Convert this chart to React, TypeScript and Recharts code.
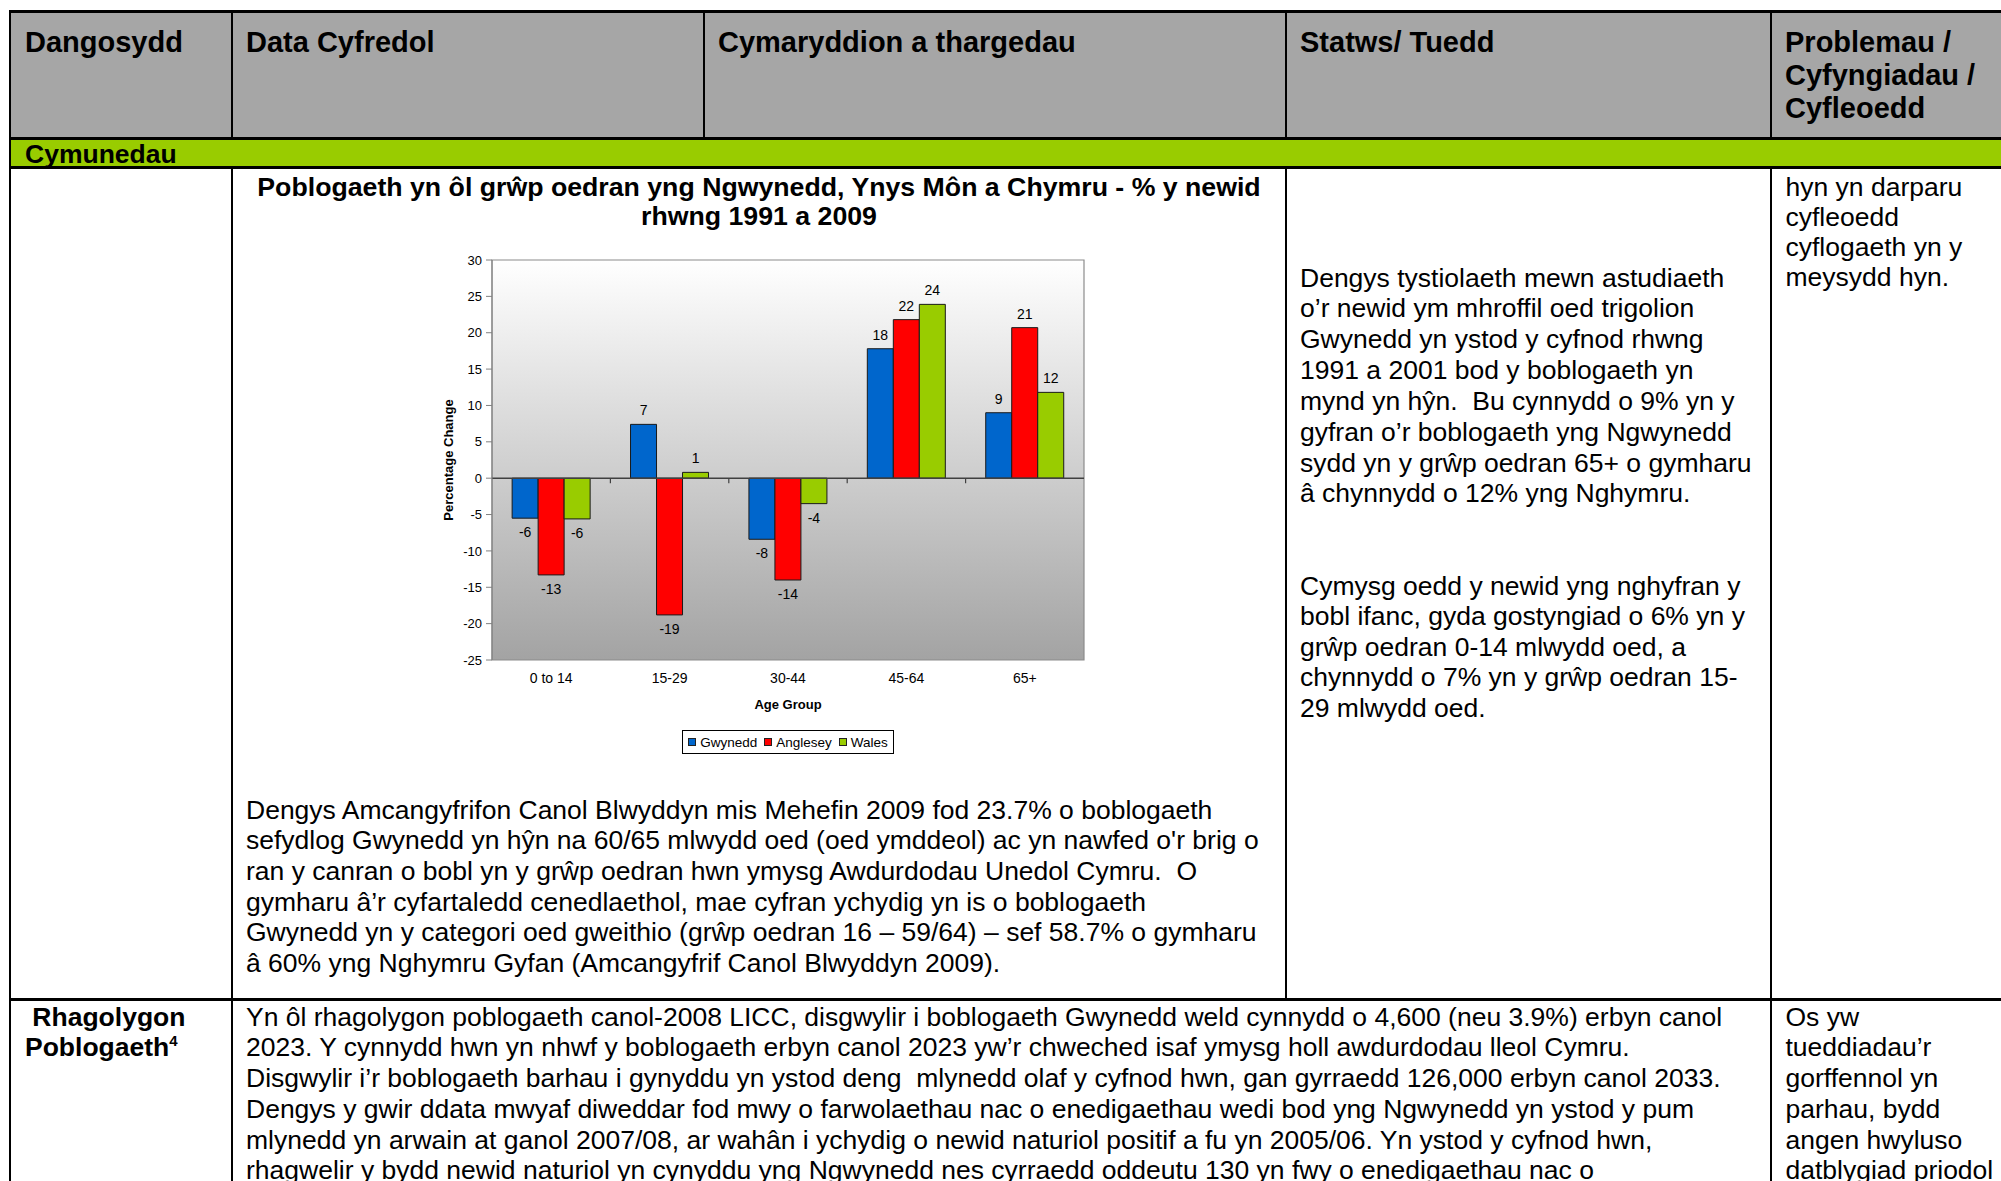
import React from 'react';
import {
  BarChart,
  Bar,
  XAxis,
  YAxis,
  CartesianGrid,
  ReferenceLine,
  ReferenceArea,
  LabelList,
  Legend,
  Label,
} from 'recharts';

// ---------- chart data ----------
const ageGroups = ['0 to 14', '15-29', '30-44', '45-64', '65+'];
const gwynedd = [-5.5, 7.4, -8.4, 17.8, 9.0];
const anglesey = [-13.3, -18.8, -14.0, 21.8, 20.7];
const wales = [-5.6, 0.8, -3.5, 23.9, 11.8];
const seriesNames = ['Gwynedd', 'Anglesey', 'Wales'];
const seriesKeys = ['gwynedd', 'anglesey', 'wales'];
const seriesColors = ['#0066cc', '#ff0000', '#99cc00'];
const yTicks = [-25, -20, -15, -10, -5, 0, 5, 10, 15, 20, 25, 30];

const chartData = ageGroups.map((g, i) => ({
  group: g,
  gwynedd: gwynedd[i],
  anglesey: anglesey[i],
  wales: wales[i],
}));

// ---------- document text ----------
const headers = ['Dangosydd', 'Data Cyfredol', 'Cymaryddion a thargedau', 'Statws/ Tuedd', 'Problemau /\nCyfyngiadau /\nCyfleoedd'];
const sectionTitle = 'Cymunedau';
const chartTitle = 'Poblogaeth yn ôl grŵp oedran yng Ngwynedd, Ynys Môn a Chymru - % y newid\nrhwng 1991 a 2009';
const chartPara = [
  'Dengys Amcangyfrifon Canol Blwyddyn mis Mehefin 2009 fod 23.7% o boblogaeth',
  "sefydlog Gwynedd yn hŷn na 60/65 mlwydd oed (oed ymddeol) ac yn nawfed o'r brig o",
  'ran y canran o bobl yn y grŵp oedran hwn ymysg Awdurdodau Unedol Cymru.  O',
  'gymharu â’r cyfartaledd cenedlaethol, mae cyfran ychydig yn is o boblogaeth',
  'Gwynedd yn y categori oed gweithio (grŵp oedran 16 – 59/64) – sef 58.7% o gymharu',
  'â 60% yng Nghymru Gyfan (Amcangyfrif Canol Blwyddyn 2009).',
];
const statusPara1 = [
  'Dengys tystiolaeth mewn astudiaeth',
  'o’r newid ym mhroffil oed trigolion',
  'Gwynedd yn ystod y cyfnod rhwng',
  '1991 a 2001 bod y boblogaeth yn',
  'mynd yn hŷn.  Bu cynnydd o 9% yn y',
  'gyfran o’r boblogaeth yng Ngwynedd',
  'sydd yn y grŵp oedran 65+ o gymharu',
  'â chynnydd o 12% yng Nghymru.',
];
const statusPara2 = [
  'Cymysg oedd y newid yng nghyfran y',
  'bobl ifanc, gyda gostyngiad o 6% yn y',
  'grŵp oedran 0-14 mlwydd oed, a',
  'chynnydd o 7% yn y grŵp oedran 15-',
  '29 mlwydd oed.',
];
const problemsRow1 = ['hyn yn darparu', 'cyfleoedd', 'cyflogaeth yn y', 'meysydd hyn.'];
const row2Para = [
  'Yn ôl rhagolygon poblogaeth canol-2008 LICC, disgwylir i boblogaeth Gwynedd weld cynnydd o 4,600 (neu 3.9%) erbyn canol',
  '2023. Y cynnydd hwn yn nhwf y boblogaeth erbyn canol 2023 yw’r chweched isaf ymysg holl awdurdodau lleol Cymru.',
  'Disgwylir i’r boblogaeth barhau i gynyddu yn ystod deng  mlynedd olaf y cyfnod hwn, gan gyrraedd 126,000 erbyn canol 2033.',
  'Dengys y gwir ddata mwyaf diweddar fod mwy o farwolaethau nac o enedigaethau wedi bod yng Ngwynedd yn ystod y pum',
  'mlynedd yn arwain at ganol 2007/08, ar wahân i ychydig o newid naturiol positif a fu yn 2005/06. Yn ystod y cyfnod hwn,',
  'rhagwelir y bydd newid naturiol yn cynyddu yng Ngwynedd nes cyrraedd oddeutu 130 yn fwy o enedigaethau nac o',
];
const problemsRow2 = ['Os yw', 'tueddiadau’r', 'gorffennol yn', 'parhau, bydd', 'angen hwyluso', 'datblygiad priodol'];

const FONT = '"Liberation Sans", Arial, sans-serif';

const roundLabel = (v: number) => Math.sign(v) * Math.round(Math.abs(v));

const BarValueLabel = (props: any) => {
  const { x, y, width, height, value } = props;
  const xs = Number(x);
  const ys = Number(y);
  const w = Number(width);
  const h = Number(height);
  const top = Math.min(ys, ys + h);
  const bottom = Math.max(ys, ys + h);
  const v = Number(value);
  const cy = v >= 0 ? top - 14 : bottom + 14;
  return (
    <text x={xs + w / 2} y={cy} textAnchor="middle" dominantBaseline="central" fontSize={14} fill="#000" fontFamily={FONT}>
      {roundLabel(v)}
    </text>
  );
};

const ZeroAxis = (props: any) => {
  const { x1, y1, x2, y2 } = props;
  const n = ageGroups.length;
  const step = (Number(x2) - Number(x1)) / n;
  return (
    <g>
      <line x1={x1} y1={y1} x2={x2} y2={y2} stroke="#404040" strokeWidth={1.5} />
      {ageGroups.slice(1).map((_, i) => (
        <line
          key={i}
          x1={Number(x1) + step * (i + 1)}
          x2={Number(x1) + step * (i + 1)}
          y1={Number(y1)}
          y2={Number(y1) + 5}
          stroke="#404040"
          strokeWidth={1.2}
        />
      ))}
    </g>
  );
};

const LegendBox = () => (
  <div style={{ display: 'flex', justifyContent: 'center' }}>
    <div
      style={{
        display: 'flex',
        alignItems: 'center',
        height: 24,
        boxSizing: 'border-box',
        border: '1px solid #000',
        padding: '0 5px',
        background: '#fff',
        fontFamily: FONT,
        fontSize: 13.5,
        color: '#000',
      }}
    >
      {seriesNames.map((n, i) => (
        <span key={n} style={{ display: 'flex', alignItems: 'center', marginLeft: i ? 7 : 0 }}>
          <span
            style={{
              width: 8,
              height: 8,
              background: seriesColors[i],
              border: '1px solid #222',
              marginRight: 4,
              boxSizing: 'border-box',
              display: 'inline-block',
            }}
          />
          <span>{n}</span>
        </span>
      ))}
    </div>
  </div>
);

const PopChart = () => (
  <BarChart
    width={720}
    height={540}
    data={chartData}
    margin={{ top: 20, right: 36, left: 32, bottom: 26 }}
    barCategoryGap="17%"
    barGap={0}
    style={{ fontFamily: FONT }}
  >
    <defs>
      <linearGradient id="plotBg" x1="0" y1="0" x2="0" y2="1">
        <stop offset="0%" stopColor="#ffffff" />
        <stop offset="100%" stopColor="#a3a3a3" />
      </linearGradient>
    </defs>
    <CartesianGrid horizontal={false} vertical={false} fill="url(#plotBg)" fillOpacity={1} stroke="none" />
    <XAxis
      dataKey="group"
      height={70}
      tickLine={false}
      axisLine={false}
      tickSize={0}
      tickMargin={13}
      interval={0}
      tick={{ fontSize: 14, fill: '#000' }}
    >
      <Label value="Age Group" position="insideBottom" offset={21} fill="#000" style={{ fontWeight: 'bold', fontSize: 13 }} />
    </XAxis>
    <YAxis
      domain={[-25, 30]}
      ticks={yTicks}
      interval={0}
      width={60}
      tickSize={6}
      tickMargin={4}
      allowDataOverflow
      axisLine={{ stroke: '#808080' }}
      tickLine={{ stroke: '#808080' }}
      tick={{ fontSize: 13, fill: '#000' }}
    >
      <Label
        value="Percentage Change"
        angle={-90}
        position="insideLeft"
        offset={16}
        fill="#000"
        style={{ textAnchor: 'middle', fontWeight: 'bold', fontSize: 13 }}
      />
    </YAxis>
    <ReferenceArea y1={-25} y2={30} fill="none" stroke="#8c8c8c" strokeWidth={1.2} ifOverflow="visible" />
    {seriesKeys.map((k, i) => (
      <Bar
        key={k}
        dataKey={k}
        name={seriesNames[i]}
        fill={seriesColors[i]}
        stroke="#1a1a1a"
        strokeWidth={1}
        isAnimationActive={false}
      >
        <LabelList dataKey={k} content={BarValueLabel} />
      </Bar>
    ))}
    <ReferenceLine y={0} shape={ZeroAxis} ifOverflow="visible" />
    <Legend
      verticalAlign="bottom"
      content={LegendBox}
      wrapperStyle={{ left: 92, width: 592 }}
    />
  </BarChart>
);

const Block = ({ left, top, lines, size = 26.5, lh = 30.8, bold = false, align = 'left', width }: any) => (
  <div
    style={{
      position: 'absolute',
      left,
      top,
      width,
      fontFamily: FONT,
      fontSize: size,
      lineHeight: `${lh}px`,
      fontWeight: bold ? 'bold' : 'normal',
      whiteSpace: 'pre',
      textAlign: align,
      color: '#000',
    }}
  >
    {lines.join('\n')}
  </div>
);

const HLine = ({ top, left = 9, width = 2000, h = 3 }: any) => (
  <div style={{ position: 'absolute', left, top, width, height: h, background: '#000' }} />
);
const VLine = ({ left, top, height, w = 2 }: any) => (
  <div style={{ position: 'absolute', left, top, width: w, height, background: '#000' }} />
);

export default function App() {
  return (
    <div
      style={{
        position: 'absolute',
        left: 0,
        top: 0,
        width: 2001,
        height: 1181,
        overflow: 'hidden',
        background: '#fff',
      }}
    >
      {/* header background */}
      <div style={{ position: 'absolute', left: 10, top: 11, width: 1995, height: 127, background: '#a6a6a6' }} />
      {/* section row */}
      <div style={{ position: 'absolute', left: 10, top: 138, width: 1995, height: 29, background: '#99cc00' }} />

      {/* grid lines */}
      <HLine top={10} />
      <HLine top={136.5} />
      <HLine top={165.5} />
      <HLine top={997.5} />
      <VLine left={9} top={10} height={1175} />
      <VLine left={231} top={10} height={128} />
      <VLine left={231} top={166} height={1020} />
      <VLine left={703} top={10} height={128} />
      <VLine left={1285} top={10} height={128} />
      <VLine left={1285} top={166} height={833} />
      <VLine left={1770} top={10} height={128} />
      <VLine left={1770} top={166} height={1020} />

      {/* header texts */}
      <Block left={25} top={25.5} lines={[headers[0]]} size={29} lh={33} bold />
      <Block left={246} top={25.5} lines={[headers[1]]} size={29} lh={33} bold />
      <Block left={718} top={25.5} lines={[headers[2]]} size={29} lh={33} bold />
      <Block left={1300} top={25.5} lines={[headers[3]]} size={29} lh={33} bold />
      <Block left={1785} top={25.5} lines={headers[4].split('\n')} size={29} lh={33} bold />

      <Block left={25} top={139} lines={[sectionTitle]} size={26.5} lh={30} bold />

      {/* chart title */}
      <Block left={232} top={172.5} width={1054} lines={chartTitle.split('\n')} size={26.7} lh={29.4} bold align="center" />

      {/* chart */}
      <div style={{ position: 'absolute', left: 400, top: 240, width: 720, height: 540 }}>
        <PopChart />
      </div>

      <Block left={246} top={794.5} lines={chartPara} lh={30.7} />
      <Block left={1300} top={262.5} lines={statusPara1} lh={30.85} />
      <Block left={1300} top={570.5} lines={statusPara2} lh={30.6} />
      <Block left={1785.5} top={172} lines={problemsRow1} lh={30.1} />

      <Block left={25} top={1001.5} lines={[' Rhagolygon']} size={26.5} lh={30.75} bold />
      <div
        style={{
          position: 'absolute',
          left: 25,
          top: 1032.25,
          fontFamily: FONT,
          fontSize: 26.5,
          lineHeight: '30.75px',
          fontWeight: 'bold',
          whiteSpace: 'pre',
        }}
      >
        Poblogaeth<sup style={{ fontSize: 15, verticalAlign: 'top', lineHeight: '18px' }}>4</sup>
      </div>
      <Block left={246} top={1001.5} lines={row2Para} lh={30.75} />
      <Block left={1785.5} top={1001.5} lines={problemsRow2} lh={30.75} />
    </div>
  );
}
